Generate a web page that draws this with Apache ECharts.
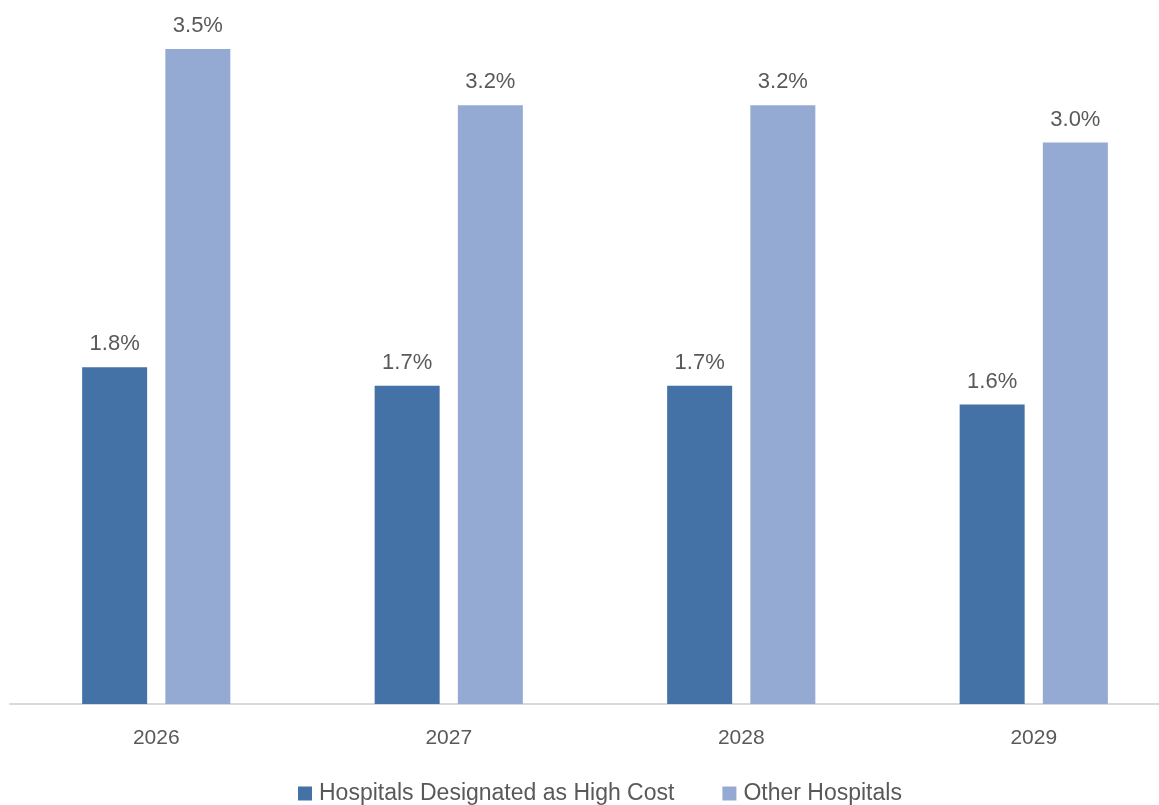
<!DOCTYPE html>
<html><head><meta charset="utf-8">
<script src="https://cdn.jsdelivr.net/npm/echarts@6/dist/echarts.min.js"></script>
<style>html,body{margin:0;padding:0;background:#fff}#c{width:1159px;height:805px}</style>
</head><body><div id="c"></div>
<script>
const categories = ['2026', '2027', '2028', '2029'];
const highCost = [1.8, 1.7, 1.7, 1.6];
const otherHospitals = [3.5, 3.2, 3.2, 3.0];
const seriesNames = ['Hospitals Designated as High Cost', 'Other Hospitals'];

const font = 'Liberation Sans';
const txt = '#595959';
const chart = echarts.init(document.getElementById('c'));
const lbl = {show: true, position: 'top', distance: 12, color: txt, fontSize: 22, fontFamily: font,
  formatter: p => p.value.toFixed(1) + '%'};
chart.setOption({
  animation: false,
  grid: {left: 10, width: 1170, top: 49, bottom: 101, containLabel: false, outerBoundsMode: 'none'},
  legend: {top: 777, left: 293, itemWidth: 14, itemHeight: 14, itemGap: 48, icon: 'rect',
    textStyle: {color: txt, fontSize: 23, fontFamily: font, padding: [0,0,0,2]}},
  xAxis: {type: 'category', data: categories,
    axisLine: {lineStyle: {color: '#d9d9d9', width: 2}}, axisTick: {show: false},
    axisLabel: {color: txt, fontSize: 21, fontFamily: font, margin: 24}},
  yAxis: {type: 'value', min: 0, max: 3.5, show: false, splitLine: {show: false}},
  series: [
    {name: seriesNames[0], type: 'bar', data: highCost, barWidth: 65, barGap: '28%',
      itemStyle: {color: '#4472a6'}, label: lbl},
    {name: seriesNames[1], type: 'bar', data: otherHospitals, barWidth: 65,
      itemStyle: {color: '#95aad2'}, label: lbl}
  ]
});
</script></body></html>
